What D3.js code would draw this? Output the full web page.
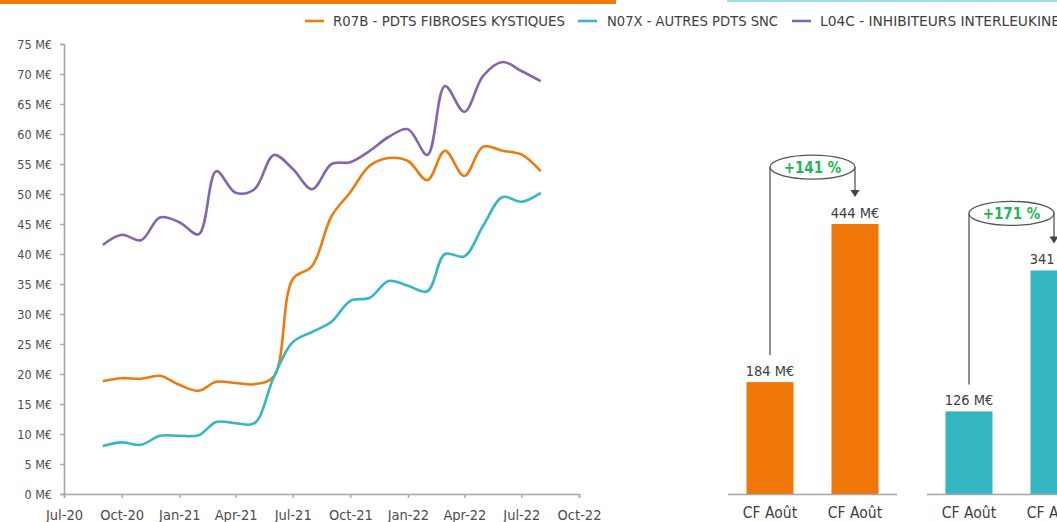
<!DOCTYPE html>
<html><head><meta charset="utf-8">
<script src="https://cdn.jsdelivr.net/npm/d3@7"></script>
<style>
html,body{margin:0;padding:0;background:#fff;}
svg{display:block;font-family:"DejaVu Sans Condensed","Liberation Sans Narrow","Noto Sans",sans-serif;}
</style></head>
<body><svg id="c" width="1057" height="522"></svg>
<script>
// ---- data ----
const months = ["2020-09","2020-10","2020-11","2020-12","2021-01","2021-02","2021-03","2021-04","2021-05","2021-06","2021-07","2021-08",
  "2021-09","2021-10","2021-11","2021-12","2022-01","2022-02","2022-03","2022-04","2022-05","2022-06","2022-07","2022-08"];
const r07b = [18.8,19.3,19.2,19.7,18.2,17.2,18.7,18.5,18.3,19.6,35.8,38.0,46.3,50.3,54.7,56.0,55.5,52.3,57.2,53.0,57.9,57.2,56.6,53.8];
const n07x = [8.0,8.6,8.2,9.7,9.7,9.8,12.0,11.8,11.8,19.5,25.3,27.0,28.7,32.2,32.7,35.5,34.7,33.8,40.0,39.6,44.7,49.5,48.7,50.2];
const l04c = [41.5,43.2,42.3,46.1,45.3,43.3,53.8,50.2,50.8,56.5,54.2,50.8,55.0,55.3,57.2,59.5,60.8,56.5,68.0,63.7,69.7,72.0,70.5,68.8];
const seriesNames = ["R07B - PDTS FIBROSES KYSTIQUES","N07X - AUTRES PDTS SNC","L04C - INHIBITEURS INTERLEUKINE"];
const yTicks = [0,5,10,15,20,25,30,35,40,45,50,55,60,65,70,75];
const xTickDates = ["2020-07","2020-10","2021-01","2021-04","2021-07","2021-10","2022-01","2022-04","2022-07","2022-10"];
const barCategories = ["CF Août","CF Août"];
const barOrange = [184,444];
const barTeal = [126,341];
const growthOrange = "+141 %";
const growthTeal = "+171 %";

// ---- styles ----
const C_OR = "#ee7a0e", C_TE = "#35b7c2", C_PU = "#8466ab", C_AX = "#a6a6a6", C_TX = "#4d4d4d", C_GR = "#22b455";
const parse = d3.timeParse("%Y-%m");
const svg = d3.select("#c");

// top decorative bars
svg.append("rect").attr("x",0).attr("y",0).attr("width",616).attr("height",4).attr("fill",C_OR);
svg.append("rect").attr("x",727).attr("y",0).attr("width",330).attr("height",2).attr("fill","#9fdfe4");

// ---- line chart ----
const x = d3.scaleTime().domain([parse("2020-07"),parse("2022-10")]).range([64,579]);
const y = d3.scaleLinear().domain([0,75]).range([494,44]);

const yAxis = svg.append("g").attr("transform","translate(64,0)")
  .call(d3.axisLeft(y).tickValues(yTicks).tickSize(4).tickPadding(8).tickFormat(d=>d+" M€"));
const xAxis = svg.append("g").attr("transform","translate(0,494)")
  .call(d3.axisBottom(x).tickValues(xTickDates.map(parse)).tickSize(4).tickPadding(12).tickFormat(d3.timeFormat("%b-%y")));
[yAxis,xAxis].forEach(g=>{
  g.select(".domain").attr("stroke",C_AX).attr("stroke-width",1.6);
  g.selectAll(".tick line").attr("stroke",C_AX).attr("stroke-width",1.4);
  g.selectAll("text").attr("fill",C_TX).attr("font-family",'"DejaVu Sans Condensed","Liberation Sans Narrow",sans-serif');
});
yAxis.selectAll("text").attr("font-size",12.5);
xAxis.selectAll("text").attr("font-size",14.5);

const line = d3.line().x(d=>x(d[0])).y(d=>y(d[1])).curve(d3.curveCatmullRom.alpha(0.5));
const dates = months.map(parse);
[[r07b,C_OR],[n07x,C_TE],[l04c,C_PU]].forEach(([vals,col])=>{
  svg.append("path").datum(dates.map((d,i)=>[d,vals[i]]))
    .attr("d",line).attr("fill","none").attr("stroke",col).attr("stroke-width",2.6);
});

// legend
const legend = [
  {name:seriesNames[0],col:C_OR,lx:305,tx:333,w:232},
  {name:seriesNames[1],col:C_TE,lx:578,tx:607,w:171},
  {name:seriesNames[2],col:C_PU,lx:792,tx:820,w:240}
];
legend.forEach(l=>{
  svg.append("line").attr("x1",l.lx).attr("x2",l.lx+19).attr("y1",21).attr("y2",21).attr("stroke",l.col).attr("stroke-width",2.6);
  svg.append("text").attr("x",l.tx).attr("y",26).attr("font-size",14).attr("fill","#404040")
    .attr("textLength",l.w).attr("lengthAdjust","spacingAndGlyphs").text(l.name);
});

// ---- bar charts ----
function barChart(x0, vals, col, yMaxDomain, yTop, growth){
  const bx = d3.scaleBand().domain(d3.range(vals.length)).range([x0,x0+169]).paddingInner(0.447).paddingOuter(0.2175);
  const by = d3.scaleLinear().domain([0,yMaxDomain]).range([494,yTop]);
  const g = svg.append("g");
  g.selectAll("rect").data(vals).join("rect")
    .attr("x",(d,i)=>bx(i)).attr("width",bx.bandwidth())
    .attr("y",d=>by(d)).attr("height",d=>494-by(d)).attr("fill",col);
  g.append("line").attr("x1",x0).attr("x2",x0+169).attr("y1",494.5).attr("y2",494.5).attr("stroke",C_AX).attr("stroke-width",1.6);
  g.selectAll("text.val").data(vals).join("text").attr("class","val")
    .attr("x",(d,i)=>bx(i)+bx.bandwidth()/2).attr("y",d=>by(d)-6)
    .attr("text-anchor","middle").attr("font-size",14.5).attr("fill","#404040").text(d=>d+" M€");
  g.selectAll("text.cat").data(barCategories).join("text").attr("class","cat")
    .attr("x",(d,i)=>bx(i)+bx.bandwidth()/2).attr("y",518)
    .attr("text-anchor","middle").attr("font-size",15.5).attr("fill","#404040").text(d=>d);
  // growth annotation
  const c1 = bx(0)+bx.bandwidth()/2, c2 = bx(1)+bx.bandwidth()/2;
  const t1 = by(vals[0]), t2 = by(vals[1]);
  const ey = t2-57, cx=(c1+c2)/2, rx=(c2-c1)/2;
  g.append("line").attr("x1",c1).attr("x2",c1).attr("y1",ey).attr("y2",t1-27).attr("stroke","#555").attr("stroke-width",1.3);
  g.append("line").attr("x1",c2).attr("x2",c2).attr("y1",ey).attr("y2",t2-33).attr("stroke","#555").attr("stroke-width",1.3);
  g.append("path").attr("d",`M${c2-4.5},${t2-34}L${c2+4.5},${t2-34}L${c2},${t2-27}Z`).attr("fill","#444");
  g.append("ellipse").attr("cx",cx).attr("cy",ey).attr("rx",rx).attr("ry",12)
    .attr("fill","#fff").attr("stroke","#555").attr("stroke-width",1.3);
  g.append("text").attr("x",cx).attr("y",ey+5.5).attr("text-anchor","middle").attr("font-size",15)
    .attr("font-weight","bold").attr("fill",C_GR).text(growth);
}
barChart(728, barOrange, "#ee7707", 500, 190, growthOrange);
barChart(927, barTeal, "#33b6c1", 450, 199, growthTeal);
</script></body></html>
